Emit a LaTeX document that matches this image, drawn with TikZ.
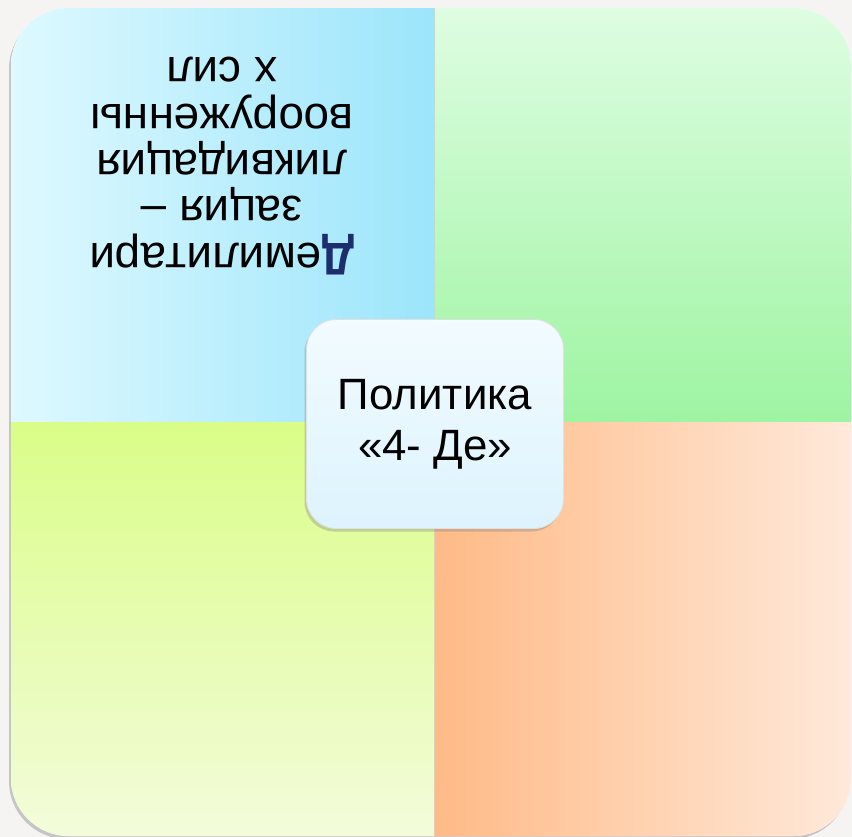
\documentclass[tikz,border=0pt]{standalone}
\usepackage{fontspec}
\setmainfont{Liberation Sans}
\usetikzlibrary{shadows}

\definecolor{pageback}{HTML}{F6F4F3}
\definecolor{blueleft}{HTML}{DEF9FF}
\definecolor{blueright}{HTML}{9CE5FB}
\definecolor{greentop}{HTML}{DEFDE2}
\definecolor{greenbottom}{HTML}{9EF4A2}
\definecolor{limetop}{HTML}{DAFD88}
\definecolor{limebottom}{HTML}{F3FCDA}
\definecolor{orangeleft}{HTML}{FFBA86}
\definecolor{orangeright}{HTML}{FFE9DA}
\definecolor{centertop}{HTML}{F2FBFF}
\definecolor{centerbottom}{HTML}{DDF3FD}
\definecolor{navy}{HTML}{1C2E6E}

\begin{document}
\begin{tikzpicture}[
  x=1bp,
  y=-1bp,
  quarter/.style={draw=none},
  cornertext/.style={font=\fontsize{46}{46.5}\selectfont, align=center, inner sep=0},
  midtext/.style={font=\fontsize{44}{51}\selectfont, align=center},
  centerbox/.style={rounded corners=30, draw=black!12, line width=0.8,
    top color=centertop, bottom color=centerbottom,
    drop shadow={shadow xshift=-2bp, shadow yshift=-3bp, opacity=0.35},
    minimum width=257bp, minimum height=209bp, inner sep=0},
  every node/.style={inner sep=0}
]
\path[use as bounding box] (0,0) rectangle (852,837);
\fill[pageback] (0,0) rectangle (852,837);

% outer square with its shadow
\path[fill=white, rounded corners=58,
  drop shadow={shadow xshift=-2bp, shadow yshift=-3bp, opacity=0.4}]
  (11,8) rectangle (851,836);

% four quarters
\begin{scope}
  \clip[rounded corners=58] (11,8) rectangle (851,836);
  \shade[quarter, left color=blueleft, right color=blueright]
    (11,8) rectangle (434,422);
  \shade[quarter, top color=greentop, bottom color=greenbottom]
    (434,8) rectangle (851,422);
  \shade[quarter, top color=limetop, bottom color=limebottom]
    (11,422) rectangle (434,836);
  \shade[quarter, left color=orangeleft, right color=orangeright]
    (434,422) rectangle (851,836);
  \draw[black!18, line width=0.8] (434,8) -- (434,836);
\end{scope}

% upside-down text of the first quarter
\node[cornertext, rotate=180] (demil) at (222,166)
  {{\bfseries\color{navy}Д}емилитари\\зация --\\ликвидация\\вооруженны\\х сил};

% central box
\node[centerbox, midtext] (policy) at (435,424) {Политика\\«4- Де»};

\end{tikzpicture}
\end{document}
